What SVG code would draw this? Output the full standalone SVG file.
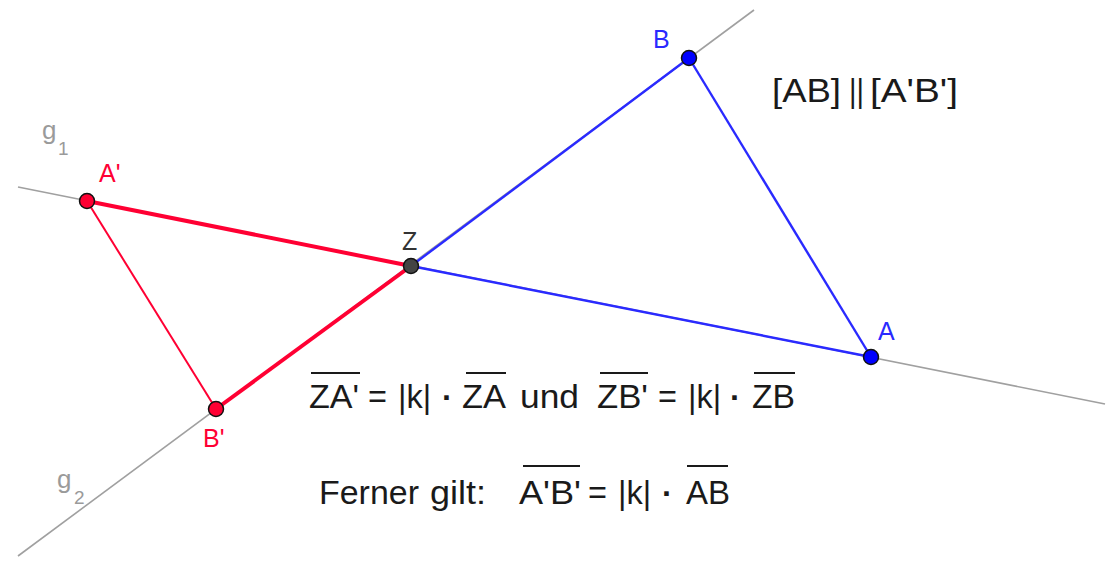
<svg xmlns="http://www.w3.org/2000/svg" width="1113" height="563" viewBox="0 0 1113 563">
<style>
text{font-family:"Liberation Sans",Arial,sans-serif;}
.g{stroke:#a0a0a0;stroke-width:1.6;fill:none}
.red{stroke:#ff0033;fill:none}
.blue{stroke:#2a2aff;fill:none}
.t{font-size:32.5px;fill:#1a1a1a}
.d{font-size:32px;font-weight:bold;fill:#1a1a1a}
.ov{stroke:#1a1a1a;stroke-width:2}
.lab{font-size:25px}
.gl{font-size:26px;fill:#9a9a9a}
.sub{font-size:19px;fill:#9a9a9a}
</style>
<rect width="1113" height="563" fill="#fff"/>
<g id="lines">
<line class="g" x1="18" y1="187" x2="1105" y2="404"/>
<line class="g" x1="18" y1="556" x2="754" y2="10"/>
</g>
<g id="connectors">
<line class="red" stroke-width="4" x1="87" y1="201" x2="411" y2="266"/>
<line class="red" stroke-width="4" x1="216" y1="409" x2="411" y2="266"/>
<line class="red" stroke-width="2" x1="87" y1="201" x2="216" y2="409"/>
<line class="blue" stroke-width="2.4" x1="411" y1="266" x2="689" y2="58"/>
<line class="blue" stroke-width="2.4" x1="689" y1="58" x2="871" y2="357"/>
<line class="blue" stroke-width="2.4" x1="411" y1="266" x2="871" y2="357"/>
</g>
<g id="Z"><circle cx="411" cy="266" r="7.5" fill="#444" stroke="#111" stroke-width="1.5"/><text class="lab" x="402" y="250" fill="#333">Z</text></g>
<g id="A"><circle cx="871" cy="357" r="7.5" fill="#0000ff" stroke="#111" stroke-width="1.5"/><text class="lab" x="878" y="340" fill="#2a2aff">A</text></g>
<g id="B"><circle cx="689" cy="58" r="7.5" fill="#0000ff" stroke="#111" stroke-width="1.5"/><text class="lab" x="653" y="48" fill="#2a2aff">B</text></g>
<g id="A1"><circle cx="87" cy="201" r="7.5" fill="#ff0033" stroke="#111" stroke-width="1.5"/><text class="lab" x="99" y="182" fill="#ff0033">A'</text></g>
<g id="B1"><circle cx="216" cy="409" r="7.5" fill="#ff0033" stroke="#111" stroke-width="1.5"/><text class="lab" x="203" y="447" fill="#ff0033">B'</text></g>
<g id="g1"><text class="gl" x="42" y="139">g</text><text class="sub" x="58" y="155">1</text></g>
<g id="g2"><text class="gl" x="57" y="488">g</text><text class="sub" x="74" y="504">2</text></g>
<g id="parallel">
<text class="t" x="772" y="102" textLength="69" lengthAdjust="spacingAndGlyphs">[AB]</text>
<text class="t" x="849" y="102" textLength="15" lengthAdjust="spacingAndGlyphs">||</text>
<text class="t" x="870" y="102" textLength="88" lengthAdjust="spacingAndGlyphs">[A'B']</text>
</g>
<g id="formula1">
<text class="t" x="309" y="408" textLength="50" lengthAdjust="spacingAndGlyphs">ZA'</text>
<text class="t" x="368" y="408">=</text>
<text class="t" x="398" y="408">|k|</text>
<text class="d" x="442" y="408">·</text>
<text class="t" x="462" y="408" textLength="44" lengthAdjust="spacingAndGlyphs">ZA</text>
<text class="t" x="520" y="408" textLength="59" lengthAdjust="spacingAndGlyphs">und</text>
<text class="t" x="597" y="408" textLength="51" lengthAdjust="spacingAndGlyphs">ZB'</text>
<text class="t" x="658" y="408">=</text>
<text class="t" x="688" y="408">|k|</text>
<text class="d" x="730" y="408">·</text>
<text class="t" x="752" y="408" textLength="43" lengthAdjust="spacingAndGlyphs">ZB</text>
<line class="ov" x1="311" y1="373" x2="360" y2="373"/>
<line class="ov" x1="466" y1="373" x2="506" y2="373"/>
<line class="ov" x1="600" y1="373" x2="648" y2="373"/>
<line class="ov" x1="754" y1="373" x2="795" y2="373"/>
</g>
<g id="formula2">
<text class="t" x="319" y="504" textLength="100" lengthAdjust="spacingAndGlyphs">Ferner</text>
<text class="t" x="430" y="504" textLength="56" lengthAdjust="spacingAndGlyphs">gilt:</text>
<text class="t" x="519" y="504" textLength="62" lengthAdjust="spacingAndGlyphs">A'B'</text>
<text class="t" x="588" y="504">=</text>
<text class="t" x="618" y="504">|k|</text>
<text class="d" x="662" y="504">·</text>
<text class="t" x="686" y="504" textLength="44" lengthAdjust="spacingAndGlyphs">AB</text>
<line class="ov" x1="523" y1="466" x2="580" y2="466"/>
<line class="ov" x1="687" y1="466" x2="728" y2="466"/>
</g>
</svg>
